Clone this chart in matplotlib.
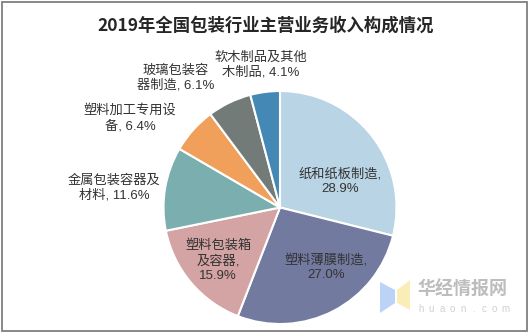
import numpy as np
import matplotlib.pyplot as plt
from matplotlib.patches import Rectangle, Polygon

plt.rcParams['font.family'] = ['Liberation Sans', 'Noto Sans CJK SC']

# data
categories = ['纸和纸板制造', '塑料薄膜制造', '塑料包装箱\n及容器', '金属包装容器及\n材料',
              '塑料加工专用设\n备', '玻璃包装容\n器制造', '软木制品及其他\n木制品']
shares = [28.9, 27.0, 15.9, 11.6, 6.4, 6.1, 4.1]
colors = ['#B9D4E4', '#737AA0', '#D4A3A4', '#7BAFAF', '#F0A05B', '#737B79', '#4488B5']

# label layout (pie data units)
label_pos = [(0.515, 0.227), (0.395, -0.511), (-0.532, -0.459), (-1.425, 0.167),
             (-1.288, 0.768), (-0.897, 1.112), (-0.163, 1.223)]
label_fmt = ['{},\n{}%', '{},\n{}%', '{},\n{}%', '{}, {}%', '{}, {}%', '{}, {}%', '{}, {}%']

W, H = 531, 335
fig = plt.figure(figsize=(W / 100, H / 100), dpi=100)
cx, cy, r = 280, 207.5, 116.5
ax = fig.add_axes([(cx - r) / W, (H - cy - r) / H, 2 * r / W, 2 * r / H])

ax.pie(shares, colors=colors, startangle=90, counterclock=False, radius=1,
       wedgeprops=dict(edgecolor='white', linewidth=1.5))
ax.set_xlim(-1, 1)
ax.set_ylim(-1, 1)
ax.set_aspect('auto')
ax.axis('off')

for cat, val, pos, fmt in zip(categories, shares, label_pos, label_fmt):
    ax.text(pos[0], pos[1], fmt.format(cat, f'{val:.1f}'), ha='center', va='center',
            fontsize=9.5, color='#333333', linespacing=1.3)

fig.text(0.5, 1 - 25.5 / H, '2019年全国包装行业主营业务收入构成情况', ha='center', va='center',
         fontsize=12.5, fontweight='bold', color='#262626',
         family=['Noto Sans CJK SC', 'DejaVu Sans'])

# outer frame
fig.patches.append(Rectangle((1.5 / W, 1 - 331 / H), 525.5 / W, 329 / H, transform=fig.transFigure,
                             fill=False, edgecolor='#7f7f7f', linewidth=1.3))

# watermark
def px(x, y):
    return (x / W, 1 - y / H)
fig.patches.append(Polygon([px(380, 282), px(395, 290), px(395, 303), px(380, 313)],
                           closed=True, transform=fig.transFigure, facecolor='#a9c8f5', alpha=0.8))
fig.patches.append(Polygon([px(397, 290), px(410, 280), px(410, 310), px(397, 303)],
                           closed=True, transform=fig.transFigure, facecolor='#fbe9a6', alpha=0.8))
fig.text(417 / W, 1 - 289 / H, '华经情报网', fontsize=13, color='#bdbdbd', va='center',
         fontweight='bold', family=['Noto Sans CJK SC'])
for i, ch in enumerate('huaon.com'):
    fig.text((421 + i * 10.5) / W, 1 - 309 / H, ch, fontsize=7, color='#d0d0d0',
             ha='center', va='center')

fig.savefig('out.png', dpi=100)
